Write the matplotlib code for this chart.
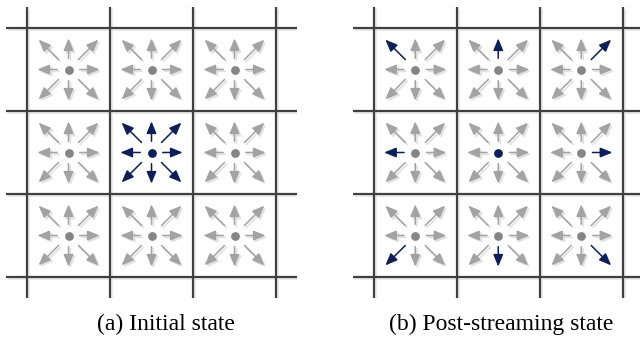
import matplotlib.pyplot as plt
from matplotlib.patches import FancyArrowPatch

# --- Lattice description (D2Q9 on a 3x3 patch) ---
n_cells = 3
center_cell = (1, 1)
# lattice velocities (rest velocity drawn as the dot)
axial_dirs = [(1, 0), (0, 1), (-1, 0), (0, -1)]
diag_dirs = [(1, 1), (-1, 1), (-1, -1), (1, -1)]
captions = ["(a) Initial state", "(b) Post-streaming state"]

# --- styling ---
GRID = '#404040'
GRID_SHADOW = '#e6e6e6'
GRAY = '#a3a3a3'
GRAY_DOT = '#858585'
SHADOW = '#e2e2e2'
NAVY = '#0a1f5c'

fig = plt.figure(figsize=(6.4, 3.41), dpi=100)
W, H = 640, 341


def px_axes(x0, y_top, size):
    return fig.add_axes([x0 / W, 1 - (y_top + size) / H, size / W, size / H])


def arrow(ax, cx, cy, d, color, shadow):
    dx, dy = d
    if dx != 0 and dy != 0:
        s, e = 0.12, 0.36
    else:
        s, e = 0.135, 0.375
    x0, y0 = cx + dx * s, cy + dy * s
    x1, y1 = cx + dx * e, cy + dy * e
    style = "-|>,head_length=0.8,head_width=0.33"
    if shadow:
        off = 0.022
        ax.add_patch(FancyArrowPatch((x0 + off, y0 - off), (x1 + off, y1 - off),
                                     arrowstyle=style, mutation_scale=9, lw=1.3,
                                     color=SHADOW, shrinkA=0, shrinkB=0, zorder=2))
    ax.add_patch(FancyArrowPatch((x0, y0), (x1, y1), arrowstyle=style,
                                 mutation_scale=9, lw=1.1, color=color,
                                 shrinkA=0, shrinkB=0, zorder=3))


def draw_panel(ax, streamed):
    ext = 0.25
    ax.set_xlim(-ext, n_cells + ext)
    ax.set_ylim(-ext, n_cells + ext)
    ax.axis('off')
    sh = 0.03
    for k in range(n_cells + 1):
        ax.plot([k + sh, k + sh], [-ext, n_cells + ext - sh], color=GRID_SHADOW, lw=1.2, zorder=0)
        ax.plot([-ext + sh, n_cells + ext], [k - sh, k - sh], color=GRID_SHADOW, lw=1.2, zorder=0)
    for k in range(n_cells + 1):
        ax.plot([k, k], [-ext, n_cells + ext], color=GRID, lw=1.6, zorder=1)
        ax.plot([-ext, n_cells + ext], [k, k], color=GRID, lw=1.6, zorder=1)

    ci, cj = center_cell
    for i in range(n_cells):
        for j in range(n_cells):
            cx, cy = i + 0.5, j + 0.5
            is_center = (i, j) == center_cell
            for d in axial_dirs + diag_dirs:
                if not streamed:
                    blue = is_center
                else:
                    blue = (i - ci, j - cj) == d
                if blue:
                    arrow(ax, cx, cy, d, NAVY, False)
                else:
                    arrow(ax, cx, cy, d, GRAY, True)
            dot_col = NAVY if is_center else GRAY_DOT
            ax.plot(cx, cy, 'o', ms=6.3, color=dot_col, mec='none', zorder=4)


ax_a = px_axes(6.25, 7.25, 290.5)
ax_b = px_axes(353.0, 7.25, 290.5)
draw_panel(ax_a, False)
draw_panel(ax_b, True)

fig.text(166 / W, 1 - 330 / H, captions[0], ha='center', va='baseline',
         fontsize=17, family='Liberation Serif')
fig.text(501 / W, 1 - 330 / H, captions[1], ha='center', va='baseline',
         fontsize=17, family='Liberation Serif')

fig.savefig('out.png', dpi=100, facecolor='white')
